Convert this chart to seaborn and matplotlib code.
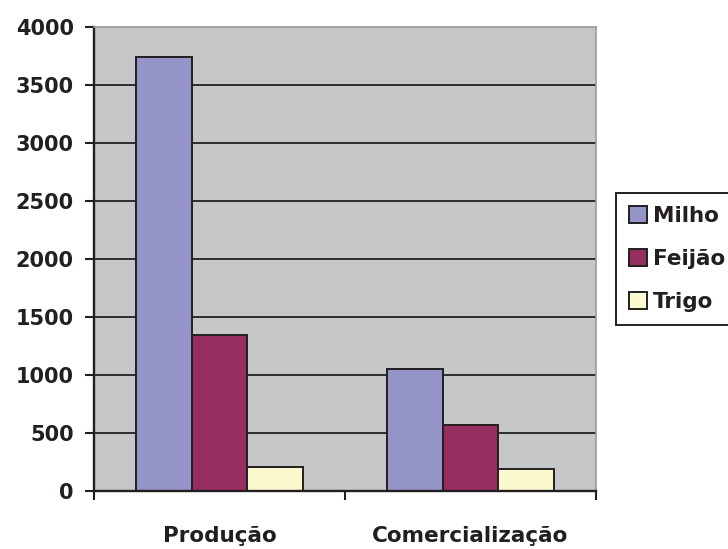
import matplotlib
matplotlib.use("Agg")
import matplotlib.pyplot as plt
from matplotlib.ticker import FixedLocator
import pandas as pd
import seaborn as sns

# Data
categories = ["Produção", "Comercialização"]
crops = ["Milho", "Feijão", "Trigo"]
milho = [3740, 1050]
feijao = [1350, 570]
trigo = [210, 190]
y_ticks = [0, 500, 1000, 1500, 2000, 2500, 3000, 3500, 4000]

colors = ["#9494C8", "#962E60", "#FBF9CE"]
ink = "#231F20"

df = pd.DataFrame({
    "categoria": categories * 3,
    "cultura": [c for c in crops for _ in categories],
    "valor": milho + feijao + trigo,
})

sns.set_style("white")
plt.rcParams["font.family"] = ["DejaVu Sans"]
plt.rcParams["font.weight"] = "bold"

fig = plt.figure(figsize=(7.28, 5.49), dpi=100)
ax = fig.add_axes([0.1291, 0.1056, 0.6896, 0.8447])

sns.barplot(
    data=df, x="categoria", y="valor", hue="cultura",
    order=categories, hue_order=crops, palette=colors, saturation=1,
    width=0.665, gap=0, edgecolor=ink, linewidth=1.4,
    errorbar=None, ax=ax, legend=True,
)

ax.set_facecolor("#C6C7C9")
ax.set_xlim(-0.5, 1.5)
ax.set_ylim(0, 4000)
ax.set_xlabel("")
ax.set_ylabel("")

# horizontal grid behind the bars
ax.set_axisbelow(True)
for v in y_ticks[1:-1]:
    ax.axhline(v, color=ink, linewidth=1.3, zorder=0.5)

# spines
for side in ("left", "bottom"):
    ax.spines[side].set_color(ink)
    ax.spines[side].set_linewidth(1.7)
for side in ("top", "right"):
    ax.spines[side].set_color("#9A9A9C")
    ax.spines[side].set_linewidth(1.2)
    ax.spines[side].set_visible(True)

# y axis ticks
ax.yaxis.set_major_locator(FixedLocator(y_ticks))
ax.set_yticklabels([str(v) for v in y_ticks])
ax.tick_params(axis="y", which="major", left=True, direction="out",
               length=6.5, width=1.5, color=ink, pad=8,
               labelsize=15, labelcolor=ink)

# x axis: labels at category centres, tick marks at boundaries
ax.set_xticks([0, 1])
ax.set_xticklabels(categories)
ax.tick_params(axis="x", which="major", length=0, pad=25,
               labelsize=15.5, labelcolor=ink)
ax.xaxis.set_minor_locator(FixedLocator([-0.5, 0.5, 1.5]))
ax.tick_params(axis="x", which="minor", bottom=True, direction="out",
               length=6.5, width=1.5, color=ink)
for lbl in ax.get_xticklabels() + ax.get_yticklabels():
    lbl.set_fontweight("bold")

# legend
handles, labels = ax.get_legend_handles_labels()
if ax.legend_:
    ax.legend_.remove()
leg = fig.legend(
    handles, labels, loc="upper left",
    bbox_to_anchor=(616 / 728, 1 - 192.7 / 549),
    frameon=True, fancybox=False, shadow=False,
    prop={"size": 15.5, "weight": "bold"},
    handlelength=0.84, handleheight=0.84, handletextpad=0.25,
    labelspacing=1.07, borderpad=0.62, borderaxespad=0,
)
leg.get_frame().set_edgecolor(ink)
leg.get_frame().set_linewidth(1.4)
leg.get_frame().set_facecolor("white")
leg.get_frame().set_alpha(1)
for t in leg.get_texts():
    t.set_color(ink)
for h in leg.legend_handles:
    h.set_edgecolor(ink)
    h.set_linewidth(1.4)

fig.savefig("out.png", dpi=100, facecolor="white")
